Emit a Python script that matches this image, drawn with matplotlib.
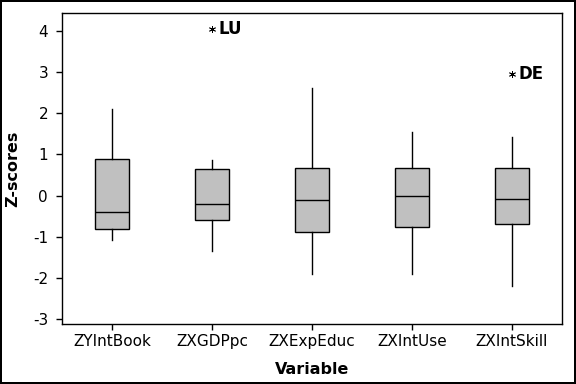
import matplotlib
matplotlib.use('Agg')
import matplotlib.pyplot as plt

# Box plot summary (z-scores)
variables = ['ZYIntBook', 'ZXGDPpc', 'ZXExpEduc', 'ZXIntUse', 'ZXIntSkill']
whis_hi = [2.11, 0.87, 2.62, 1.55, 1.43]
q3 = [0.90, 0.65, 0.67, 0.67, 0.67]
median = [-0.40, -0.20, -0.10, -0.01, -0.08]
q1 = [-0.81, -0.59, -0.88, -0.76, -0.69]
whis_lo = [-1.08, -1.33, -1.89, -1.89, -2.20]
outliers = [[], [4.05], [], [], [2.94]]
outlier_labels = [[], ['LU'], [], [], ['DE']]

plt.rcParams['font.family'] = ['DejaVu Sans']
plt.rcParams['axes.unicode_minus'] = False

stats = []
for i, name in enumerate(variables):
    stats.append({'label': name, 'med': median[i], 'q1': q1[i], 'q3': q3[i],
                  'whislo': whis_lo[i], 'whishi': whis_hi[i], 'fliers': outliers[i]})

fig = plt.figure(figsize=(5.76, 3.84), dpi=100, facecolor='white',
                 edgecolor='black', linewidth=1.5)
ax = fig.add_axes([62/576, 1 - 324/384, 500/576, 311/384])

pos = list(range(1, len(variables) + 1))
ax.bxp(stats, positions=pos, widths=0.34, patch_artist=True, showcaps=False,
       boxprops=dict(facecolor='#c0c0c0', edgecolor='black', linewidth=1),
       medianprops=dict(color='black', linewidth=1),
       whiskerprops=dict(color='black', linewidth=1),
       flierprops=dict(marker=(6, 2, 0), markersize=5, markerfacecolor='black',
                       markeredgecolor='black', markeredgewidth=0.6))

for p, vals, labs in zip(pos, outliers, outlier_labels):
    for v, lab in zip(vals, labs):
        ax.text(p + 0.07, v, lab, fontsize=12, fontweight='bold',
                va='center', ha='left')

ax.set_xlim(0.5, 5.5)
ax.set_ylim(-3.11, 4.43)
ax.set_yticks([-3, -2, -1, 0, 1, 2, 3, 4])
ax.set_xticks(pos)
ax.set_xticklabels(variables)
ax.tick_params(axis='both', direction='out', length=4, width=1,
               labelsize=11, colors='black')
ax.tick_params(axis='y', pad=6)
for s in ax.spines.values():
    s.set_linewidth(1)
ax.set_xlabel('Variable', fontsize=11.5, fontweight='bold', labelpad=9)
ax.set_ylabel('Z-scores', fontsize=11.5, fontweight='bold')
ax.yaxis.set_label_coords(-0.084, 0.5)

fig.savefig('out.png', dpi=100)
